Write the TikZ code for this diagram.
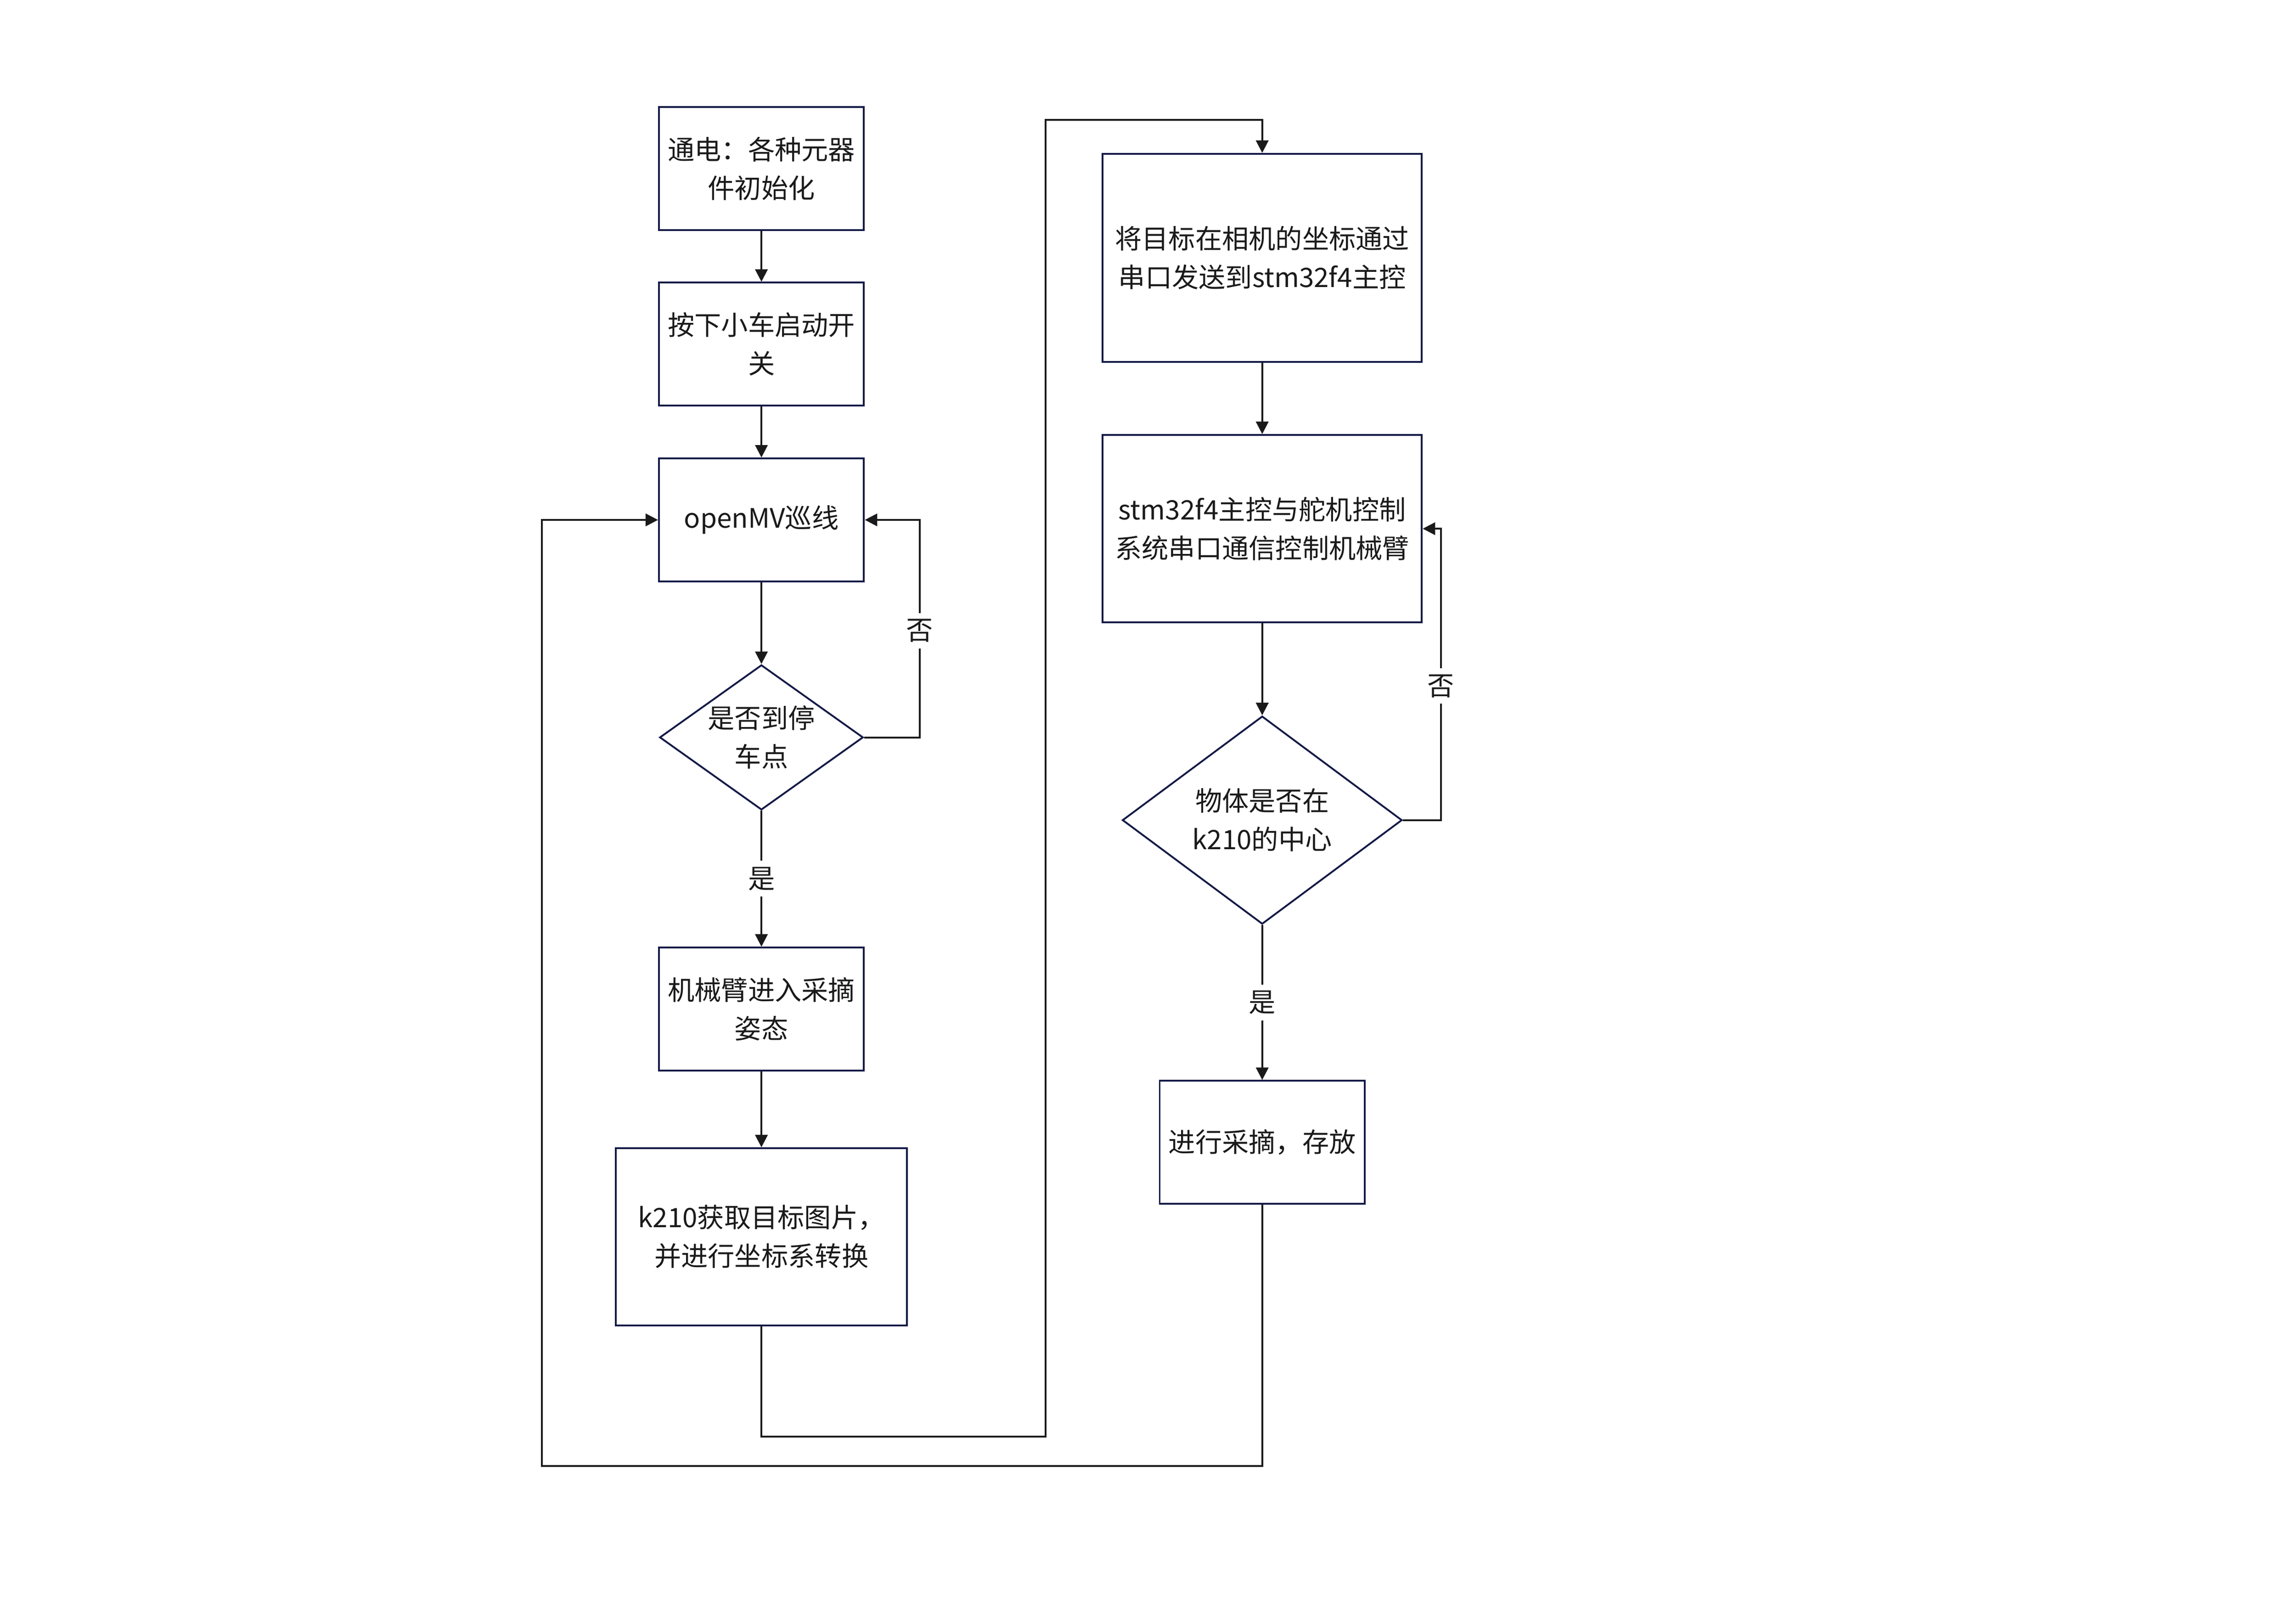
\documentclass[tikz,border=0pt]{standalone}
\usepackage{fontspec}
\setmainfont{Noto Sans CJK SC}
\usetikzlibrary{positioning,shapes.geometric,arrows.meta}
\definecolor{boxline}{HTML}{141A46}
\definecolor{ink}{HTML}{1A1A1A}

\begin{document}
\begin{tikzpicture}[on grid, node distance=24mm, ->, >={Triangle[length=1.7mm,width=1.7mm]},
  line width=0.7pt, color=ink, font=\fontsize{10.4pt}{15pt}\selectfont,
  proc/.style={rectangle, draw=boxline, align=center, inner sep=0pt, minimum width=28mm, minimum height=16.8mm},
  cond/.style={diamond, aspect=1.4, draw=boxline, align=center, inner sep=0pt},
  lbl/.style={fill=white, inner sep=2.4pt}]
\useasboundingbox (-10.4,2.30) rectangle (20.96,-19.874);
\node[proc] (init) {通电：各种元器\\件初始化};
\node[proc, below=of init] (start) {按下小车启动开\\关};
\node[proc, below=of start] (track) {openMV巡线};
\node[cond, below=29.7mm of track, minimum width=27.8mm, minimum height=19.8mm] (stop) {是否到停\\车点};
\node[proc, below=37.1mm of stop] (pose) {机械臂进入采摘\\姿态};
\node[proc, below=31.1mm of pose, minimum width=39.8mm, minimum height=24.2mm] (k210) {k210获取目标图片，\\并进行坐标系转换};
\node[proc, below right=12.2mm and 68.4mm of init, minimum width=43.6mm, minimum height=28.4mm] (send) {将目标在相机的坐标通过\\串口发送到stm32f4主控};
\node[proc, below=37mm of send, minimum width=43.6mm, minimum height=25.6mm] (servo) {stm32f4主控与舵机控制\\系统串口通信控制机械臂};
\node[cond, below=39.8mm of servo, minimum width=38.2mm, minimum height=28.4mm] (centre) {物体是否在\\k210的中心};
\node[proc, below=44mm of centre] (pick) {进行采摘，存放};
% bends of the loops
\coordinate[right=21.6mm of track] (noL);
\coordinate[right=24.4mm of servo] (noR);
\coordinate[below=27.3mm of k210] (k210b);
\coordinate[right=38.8mm of k210b] (upL);
\coordinate[above=18.8mm of send] (sendt);
\coordinate[below=44.2mm of pick] (pickb);
\coordinate[left=30mm of track] (back);
\path
	(init) edge (start)
	(start) edge (track)
	(track) edge (stop)
	(stop) edge node[lbl] {是} (pose)
	(pose) edge (k210)
	(send) edge (servo)
	(servo) edge (centre)
	(centre) edge node[lbl] {是} (pick)
; %-path-%
\draw
(stop.east) -- (stop.east -| noL) -- node[lbl, pos=0.49] {否} (noL) -- (track.east)
;
\draw
(centre.east) -- (centre.east -| noR) -- node[lbl, pos=0.46] {否} (noR) -- (servo.east)
;
\draw (k210) -- (k210b) -- (upL) |- (sendt) -- (send);
\draw (pick) -- (pickb) -| (back) -- (track);
\end{tikzpicture}
\end{document}
